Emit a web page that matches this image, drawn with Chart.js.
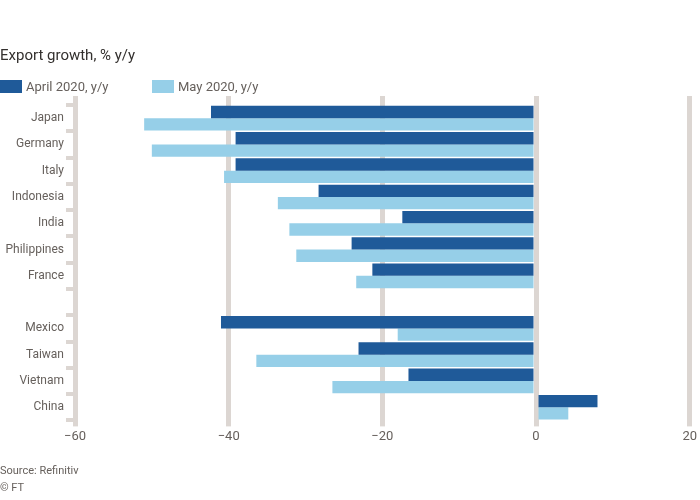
<!DOCTYPE html>
<html><head><meta charset="utf-8">
<script src="https://cdn.jsdelivr.net/npm/chart.js@4/dist/chart.umd.min.js"></script>
<style>
html,body{margin:0;padding:0;background:#fff;}
#wrap{position:relative;width:700px;height:500px;font-family:Roboto, sans-serif;}
#c{position:absolute;left:0;top:0;}
#title{position:absolute;left:0;top:46px;font-size:15px;line-height:18px;color:#33302e;}
#legend{position:absolute;left:0;top:80px;height:13px;font-size:13px;color:#66605c;}
.item{position:absolute;top:0;white-space:nowrap;line-height:13px;}
.sw{display:inline-block;width:22px;height:13px;vertical-align:top;margin-right:4px;}
#source{position:absolute;left:0;top:462px;font-size:11px;color:#66605c;line-height:17px;}
</style></head><body>
<div id="wrap"><canvas id="c" width="700" height="500"></canvas>
<div id="title"></div>
<div id="legend"></div>
<div id="source">Source: Refinitiv<br>© FT</div></div>
<script>
const titleText = "Export growth, % y/y";
const categories = ["Japan","Germany","Italy","Indonesia","India","Philippines","France","","Mexico","Taiwan","Vietnam","China"];
const seriesNames = ["April 2020, y/y","May 2020, y/y"];
const seriesColors = ["#1f5a99","#96cfe8"];
const aprilValues = [-42.3,-39.1,-39.1,-28.3,-17.4,-24.0,-21.3,null,-41.0,-23.1,-16.6,8.0];
const mayValues = [-51.0,-50.0,-40.6,-33.6,-32.1,-31.2,-23.4,null,-18.0,-36.4,-26.5,4.2];
const xTicks = [-60,-40,-20,0,20];

const textColor = "#66605c";
const gridColor = "#dcd6d2";
const font = "Roboto, sans-serif";

document.getElementById("title").textContent = titleText;
const legendX = [0, 152];
const legendEl = document.getElementById("legend");
seriesNames.forEach((n, i) => {
  const it = document.createElement("div");
  it.className = "item";
  it.style.left = legendX[i] + "px";
  const sw = document.createElement("span");
  sw.className = "sw";
  sw.style.background = seriesColors[i];
  it.appendChild(sw);
  it.appendChild(document.createTextNode(n));
  legendEl.appendChild(it);
});

new Chart(document.getElementById("c"), {
  type: "bar",
  data: {
    labels: categories,
    datasets: [
      {label: seriesNames[0], data: aprilValues, backgroundColor: seriesColors[0], barPercentage: 1, categoryPercentage: 0.94},
      {label: seriesNames[1], data: mayValues, backgroundColor: seriesColors[1], barPercentage: 1, categoryPercentage: 0.94}
    ]
  },
  options: {
    indexAxis: "y",
    responsive: false,
    animation: false,
    devicePixelRatio: 1,
    layout: {padding: {left: 0, right: 9, top: 96, bottom: 52}},
    plugins: {
      tooltip: {enabled: false},
      title: {display: false},
      legend: {display: false}
    },
    scales: {
      x: {
        type: "linear", position: "bottom", min: xTicks[0], max: xTicks[xTicks.length-1],
        afterBuildTicks: s => { s.ticks = xTicks.map(v => ({value: v})); },
        ticks: {color: textColor, font: {family: font, size: 13}, padding: 3,
          callback: v => (v < 0 ? "\u2212" + Math.abs(v) : String(v))},
        grid: {color: gridColor, lineWidth: 5, tickLength: 6, drawOnChartArea: true},
        border: {display: false}
      },
      x2: {
        type: "linear", position: "top", min: xTicks[0], max: xTicks[xTicks.length-1],
        afterBuildTicks: s => { s.ticks = xTicks.map(v => ({value: v})); },
        ticks: {display: false},
        grid: {color: gridColor, lineWidth: 5, tickLength: 9, drawOnChartArea: false},
        border: {display: false}
      },
      y: {
        type: "category",
        ticks: {color: textColor, font: {family: font, size: 12}, padding: 2, autoSkip: false},
        grid: {color: gridColor, lineWidth: 4, tickLength: 9, drawOnChartArea: false},
        border: {display: false},
        afterFit: s => { s.width = 75; }
      }
    }
  }
});
</script>
</body></html>
